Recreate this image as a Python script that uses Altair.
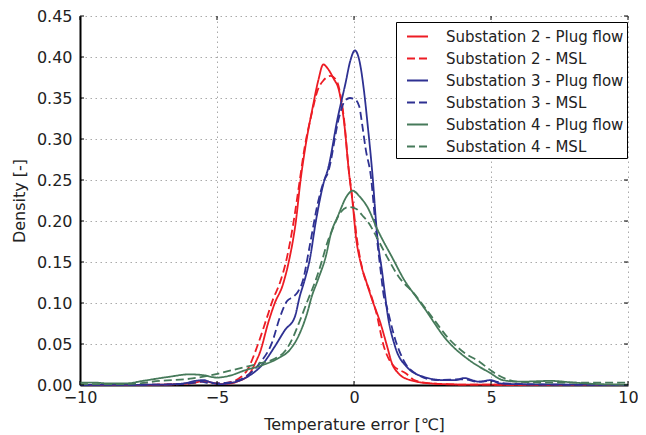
import altair as alt
import pandas as pd

# ---------------- data ----------------
s2_pf_x = [-10, -8, -6.5, -5.8, -5.5, -5.2, -4.9, -4.5, -4.2, -3.85, -3.6, -3.43, -3.13, -2.89,
           -2.6, -2.37, -2.12, -1.95, -1.79, -1.5, -1.3, -1.12, -0.96, -0.75, -0.54, -0.36,
           -0.18, -0.05, 0.07, 0.25, 0.43, 0.65, 0.97, 1.21, 1.39, 1.63, 2.05, 2.78, 4.0, 10]
s2_pf_y = [0.0, 0.0, 0.001, 0.003, 0.005, 0.003, 0.001, 0.002, 0.005, 0.012, 0.027, 0.040, 0.076, 0.100,
           0.122, 0.152, 0.200, 0.250, 0.287, 0.340, 0.372, 0.391, 0.386, 0.374, 0.358, 0.320,
           0.258, 0.222, 0.181, 0.148, 0.128, 0.105, 0.075, 0.047, 0.026, 0.014, 0.006, 0.002, 0.0005, 0.0]

s2_msl_x = [-10, -7, -6, -5.5, -5, -4.6, -4.2, -3.9, -3.49, -3.2, -2.95, -2.7, -2.45, -2.2, -2.0,
            -1.8, -1.55, -1.32, -1.1, -0.85, -0.65, -0.5, -0.35, -0.2, -0.05, 0.1, 0.3, 0.6, 0.8,
            1.09, 1.4, 1.9, 2.2, 2.8, 4.0, 10]
s2_msl_y = [0.0, 0.0005, 0.002, 0.004, 0.002, 0.003, 0.008, 0.018, 0.051, 0.080, 0.105, 0.125, 0.155, 0.200, 0.245,
            0.290, 0.330, 0.360, 0.372, 0.377, 0.372, 0.355, 0.320, 0.265, 0.225, 0.180, 0.142, 0.112, 0.090,
            0.047, 0.025, 0.014, 0.006, 0.002, 0.0005, 0.0]

s3_pf_x = [-10, -7, -6.2, -5.8, -5.5, -5.2, -4.9, -4.58, -3.97, -3.37, -2.89, -2.52, -2.16, -1.98,
           -1.8, -1.62, -1.39, -1.08, -0.96, -0.6, -0.31, -0.13, 0.03, 0.2, 0.36, 0.49, 0.67, 0.85,
           1.03, 1.14, 1.21, 1.5, 1.93, 2.54, 3.26, 3.7, 4.03, 4.3, 4.57, 5.0, 5.3, 6, 8, 10]
s3_pf_y = [0.0, 0.0005, 0.002, 0.005, 0.006, 0.003, 0.001, 0.002, 0.0085, 0.024, 0.047, 0.067, 0.083, 0.108,
           0.128, 0.152, 0.200, 0.250, 0.262, 0.325, 0.368, 0.396, 0.408, 0.395, 0.360, 0.320, 0.258, 0.181,
           0.137, 0.108, 0.090, 0.047, 0.022, 0.010, 0.006, 0.006, 0.0085, 0.006, 0.004, 0.006, 0.002, 0.001, 0.0005, 0.0]

s3_msl_x = [-10, -7, -6, -5.6, -5.2, -4.6, -3.97, -3.43, -3.0, -2.7, -2.45, -2.2, -2.04, -1.86, -1.62,
            -1.32, -1.08, -0.96, -0.54, -0.36, -0.15, 0.05, 0.19, 0.31, 0.43, 0.61, 0.8, 0.97, 1.08,
            1.2, 1.51, 1.81, 2.3, 3.0, 4.0, 4.5, 5.0, 5.5, 7, 10]
s3_msl_y = [0.0, 0.0005, 0.002, 0.004, 0.002, 0.003, 0.010, 0.027, 0.051, 0.083, 0.102, 0.108, 0.114, 0.128, 0.169,
            0.222, 0.250, 0.258, 0.327, 0.345, 0.350, 0.348, 0.340, 0.315, 0.287, 0.256, 0.190, 0.140, 0.110,
            0.095, 0.055, 0.030, 0.013, 0.006, 0.007, 0.004, 0.005, 0.002, 0.0005, 0.0]

s4_pf_x = [-10, -9.5, -9, -8.3, -7.71, -6.75, -6.0, -5.5, -5.0, -4.58, -3.97, -3.37, -2.77, -2.34,
           -1.98, -1.68, -1.56, -1.32, -1.02, -0.84, -0.6, -0.23, -0.05, 0.2, 0.49, 0.85, 1.45,
           1.8, 2.3, 2.54, 3.38, 4.22, 4.95, 5.43, 6.0, 7.2, 8.0, 9.0, 10]
s4_pf_y = [0.003, 0.003, 0.002, 0.002, 0.005, 0.010, 0.013, 0.012, 0.009, 0.011, 0.018, 0.024, 0.0325, 0.043,
           0.063, 0.091, 0.106, 0.128, 0.158, 0.185, 0.205, 0.232, 0.237, 0.230, 0.217, 0.190, 0.152,
           0.130, 0.106, 0.095, 0.055, 0.030, 0.015, 0.006, 0.004, 0.005, 0.003, 0.001, 0.0005]

s4_msl_x = [-10, -9, -8.3, -7.1, -5.9, -4.94, -4.46, -3.97, -3.49, -2.9, -2.5, -2.2, -1.98, -1.68,
            -1.44, -1.2, -0.96, -0.78, -0.48, -0.2, 0.07, 0.3, 0.55, 0.8, 1.21, 1.63, 2.18, 2.8,
            3.5, 4.0, 4.59, 5.07, 5.5, 6.0, 7.0, 8.0, 9.28, 10]
s4_msl_y = [0.001, 0.001, 0.001, 0.005, 0.008, 0.014, 0.018, 0.022, 0.026, 0.032, 0.042, 0.060, 0.078, 0.104,
            0.124, 0.148, 0.175, 0.190, 0.211, 0.217, 0.215, 0.207, 0.197, 0.182, 0.156, 0.132, 0.112, 0.085,
            0.055, 0.040, 0.028, 0.016, 0.008, 0.004, 0.003, 0.003, 0.003, 0.003]

series_names = ["Substation 2 - Plug flow", "Substation 2 - MSL",
                "Substation 3 - Plug flow", "Substation 3 - MSL",
                "Substation 4 - Plug flow", "Substation 4 - MSL"]
series_colors = ["#ED1C24", "#ED1C24", "#2E3192", "#2E3192", "#467A5A", "#467A5A"]
series_dash = [[1, 0], [8, 4], [1, 0], [8, 4], [1, 0], [8, 4]]

x_ticks = [-10, -5, 0, 5, 10]
y_ticks = [0.0, 0.05, 0.10, 0.15, 0.20, 0.25, 0.30, 0.35, 0.40, 0.45]

# ---------------- build tables ----------------
pairs = [(s2_pf_x, s2_pf_y), (s2_msl_x, s2_msl_y), (s3_pf_x, s3_pf_y),
         (s3_msl_x, s3_msl_y), (s4_pf_x, s4_pf_y), (s4_msl_x, s4_msl_y)]
rows = []
for name, (xs, ys) in zip(series_names, pairs):
    for i, (xv, yv) in enumerate(zip(xs, ys)):
        rows.append({"series": name, "x": xv, "y": yv, "i": i})
df = pd.DataFrame(rows)

xt = pd.DataFrame({"x": x_ticks})
yt = pd.DataFrame({"y": y_ticks})

W, H = 548, 369
FONT = "DejaVu Sans"

xscale = alt.Scale(domain=[-10, 10], nice=False, zero=False)
yscale = alt.Scale(domain=[0, 0.45], nice=False, zero=False)
xaxis = alt.Axis(values=x_ticks, format="d", title="Temperature error [℃]", grid=True,
                 labelPadding=4, titlePadding=11, labelFlush=False)
yaxis = alt.Axis(values=y_ticks, format=".2f", title="Density [-]", grid=True,
                 labelPadding=8, titlePadding=9, labelFlush=False)

lines = alt.Chart(df).mark_line(strokeWidth=1.8, interpolate="monotone").encode(
    x=alt.X("x:Q", scale=xscale, axis=xaxis),
    y=alt.Y("y:Q", scale=yscale, axis=yaxis),
    color=alt.Color("series:N", scale=alt.Scale(domain=series_names, range=series_colors),
                    legend=alt.Legend(title=None, orient="none", legendX=316, legendY=6)),
    strokeDash=alt.StrokeDash("series:N", scale=alt.Scale(domain=series_names, range=series_dash),
                              legend=alt.Legend(title=None, orient="none", legendX=316, legendY=6)),
    detail="series:N",
    order="i:Q",
)

tick_l = alt.Chart(yt).mark_rule(color="black", strokeWidth=1).encode(
    y=alt.Y("y:Q", scale=yscale, axis=yaxis), x=alt.value(0), x2=alt.value(4))
tick_r = alt.Chart(yt).mark_rule(color="black", strokeWidth=1).encode(
    y=alt.Y("y:Q", scale=yscale, axis=yaxis), x=alt.value(W - 4), x2=alt.value(W))
tick_b = alt.Chart(xt).mark_rule(color="black", strokeWidth=1).encode(
    x=alt.X("x:Q", scale=xscale, axis=xaxis), y=alt.value(H), y2=alt.value(H - 4))
tick_t = alt.Chart(xt).mark_rule(color="black", strokeWidth=1).encode(
    x=alt.X("x:Q", scale=xscale, axis=xaxis), y=alt.value(0), y2=alt.value(4))

chart = alt.layer(lines, tick_l, tick_r, tick_b, tick_t).properties(
    width=W, height=H,
    autosize=alt.AutoSizeParams(type="none"),
    padding={"left": 72, "top": 8, "right": 10, "bottom": 50},
).configure_view(stroke=None).configure_axis(
    labelFont=FONT, labelFontSize=16, labelColor="#222222",
    titleFont=FONT, titleFontSize=16, titleFontWeight="normal", titleColor="#222222",
    domainColor="black", domainWidth=2, ticks=False,
    gridColor="#aaaaaa", gridDash=[1.5, 3.5], gridWidth=1,
).configure_legend(
    labelFont=FONT, labelFontSize=15, labelColor="#222222",
    symbolType="stroke", symbolSize=441, symbolStrokeWidth=2,
    strokeColor="black", fillColor="white", padding=3, rowPadding=2,
    symbolOffset=7, labelOffset=17, labelLimit=300,
)

chart.save("out.html", embed_options={"renderer": "svg", "actions": False})
